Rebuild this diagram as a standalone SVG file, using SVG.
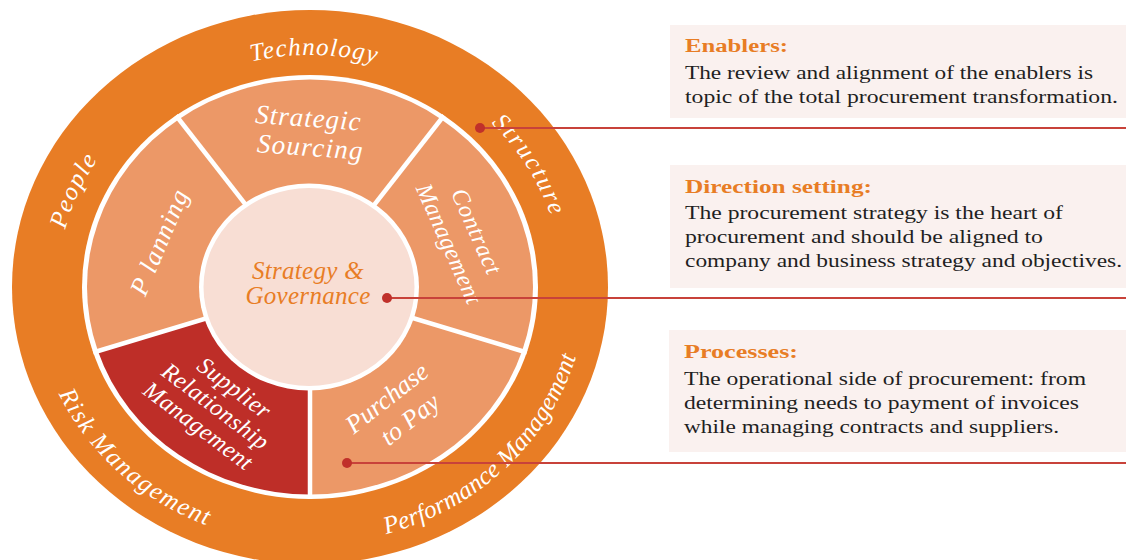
<svg xmlns="http://www.w3.org/2000/svg" width="1126" height="560" viewBox="0 0 1126 560">
<style>
.ring{font-family:"Liberation Serif","DejaVu Serif",serif;font-style:italic;fill:#fff;font-size:25px}
.seg{font-family:"Liberation Serif","DejaVu Serif",serif;font-style:italic;fill:#fff;text-anchor:middle}
.ctr{font-family:"Liberation Serif","DejaVu Serif",serif;font-style:italic;fill:#E87D25;font-size:25px;text-anchor:middle}
.box{fill:#FAF1EF}
.ttl{font-family:"Liberation Serif","DejaVu Serif",serif;font-weight:bold;fill:#E87D25;font-size:18px}
.body{font-family:"Liberation Serif","DejaVu Serif",serif;fill:#1F1F1F;font-size:19.5px}
.conn{stroke:#C8423A;stroke-width:2;fill:none}
.dot{fill:#C0302A}
.div{stroke:#fff;stroke-width:4.5}
</style>
<defs>
<path id="pTech" d="M153.05,106.71 A249.4,232 0 0 1 473.63,111.91"/>
<path id="pStruct" d="M396.39,66.17 A252.6,235 0 0 1 558.76,327.80"/>
<path id="pPeople" d="M68.44,355.71 A252.6,235 0 0 1 195.32,77.61"/>
<path id="pRisk" d="M34.56,266.83 A276.3,257 0 0 0 336.47,542.82"/>
<path id="pPerf" d="M244.10,536.57 A276.3,257 0 0 0 575.33,215.30"/>
</defs>
<rect width="1126" height="560" fill="#fff"/>

<g id="enablers-ring">
<ellipse cx="310" cy="287" rx="298" ry="277" fill="#E87D25"/>
<text class="ring" letter-spacing="1.2"><textPath href="#pTech" startOffset="50%" text-anchor="middle">Technology</textPath></text>
<text class="ring" letter-spacing="2.3"><textPath href="#pStruct" startOffset="50%" text-anchor="middle">Structure</textPath></text>
<text class="ring" letter-spacing="1.5"><textPath href="#pPeople" startOffset="50%" text-anchor="middle">People</textPath></text>
<text class="ring" letter-spacing="1.6"><textPath href="#pRisk" startOffset="50%" text-anchor="middle">Risk Management</textPath></text>
<text class="ring" letter-spacing="0.2"><textPath href="#pPerf" startOffset="50%" text-anchor="middle">Performance Management</textPath></text>
<ellipse cx="310" cy="287" rx="228" ry="212" fill="#fff"/>
</g>

<g id="strategic-sourcing">
<path d="M310,287 L178.92,119.13 A223,207.5 0 0 1 441.08,119.13 Z" fill="#EC9867"/>
<g transform="rotate(4 310 140)">
<text class="seg" x="307" y="127" font-size="27" letter-spacing="1">Strategic</text>
<text class="seg" x="311" y="156" font-size="27" letter-spacing="1.3">Sourcing</text>
</g>
</g>
<g id="contract-management">
<path d="M310,287 L441.08,119.13 A223,207.5 0 0 1 522.09,351.12 Z" fill="#EC9867"/>
<g transform="translate(462,238) rotate(66)">
<text class="seg" x="0" y="-8" font-size="24" letter-spacing="0.8">Contract</text>
<text class="seg" x="0" y="22" font-size="24" letter-spacing="0.4">Management</text>
</g>
</g>
<g id="purchase-to-pay">
<path d="M310,287 L522.09,351.12 A223,207.5 0 0 1 310,494.5 Z" fill="#EC9867"/>
<g transform="translate(398,409) rotate(-38)">
<text class="seg" x="-2" y="-7" font-size="26">Purchase</text>
<text class="seg" x="3" y="24" font-size="26">to Pay</text>
</g>
</g>
<g id="supplier-relationship-management">
<path d="M310,287 L310,494.5 A223,207.5 0 0 1 97.91,351.12 Z" fill="#BE2E28"/>
<g transform="translate(215,407) rotate(37)">
<text class="seg" x="4" y="-19" font-size="24" letter-spacing="0.5">Supplier</text>
<text class="seg" x="0" y="7" font-size="24" letter-spacing="0.5">Relationship</text>
<text class="seg" x="-2" y="33" font-size="24" letter-spacing="0.5">Management</text>
</g>
</g>
<g id="planning">
<path d="M310,287 L97.91,351.12 A223,207.5 0 0 1 178.92,119.13 Z" fill="#EC9867"/>
<g transform="translate(160,242) rotate(-67)">
<text class="seg" x="0" y="8" font-size="26" letter-spacing="1.3">P lanning</text>
</g>
</g>
<g id="dividers">
<line class="div" x1="310" y1="287" x2="176" y2="115.5"/>
<line class="div" x1="310" y1="287" x2="444" y2="115.5"/>
<line class="div" x1="310" y1="287" x2="526.8" y2="352.5"/>
<line class="div" x1="310" y1="287" x2="310" y2="499"/>
<line class="div" x1="310" y1="287" x2="93.2" y2="352.5"/>
</g>

<g id="strategy-governance">
<ellipse cx="309" cy="287" rx="110" ry="103.5" fill="#fff"/>
<ellipse cx="309" cy="287" rx="105.5" ry="99" fill="#F8DED4"/>
<text class="ctr" x="308" y="279" letter-spacing="0.3">Strategy &amp;</text>
<text class="ctr" x="308" y="304" letter-spacing="0.3">Governance</text>
</g>

<g id="box-enablers">
<rect class="box" x="670" y="25" width="456" height="93"/>
<text class="ttl" x="685" y="52" textLength="103" lengthAdjust="spacingAndGlyphs">Enablers:</text>
<text class="body" x="685" y="79" textLength="408" lengthAdjust="spacingAndGlyphs">The review and alignment of the enablers is</text>
<text class="body" x="685" y="103" textLength="433" lengthAdjust="spacingAndGlyphs">topic of the total procurement transformation.</text>
</g>
<g id="box-direction">
<rect class="box" x="670" y="165" width="456" height="123"/>
<text class="ttl" x="685" y="193" textLength="187" lengthAdjust="spacingAndGlyphs">Direction setting:</text>
<text class="body" x="685" y="219" textLength="378" lengthAdjust="spacingAndGlyphs">The procurement strategy is the heart of</text>
<text class="body" x="685" y="243" textLength="358" lengthAdjust="spacingAndGlyphs">procurement and should be aligned to</text>
<text class="body" x="685" y="267" textLength="437" lengthAdjust="spacingAndGlyphs">company and business strategy and objectives.</text>
</g>
<g id="box-processes">
<rect class="box" x="669" y="330" width="457" height="122"/>
<text class="ttl" x="684" y="358" textLength="114" lengthAdjust="spacingAndGlyphs">Processes:</text>
<text class="body" x="684" y="385" textLength="402" lengthAdjust="spacingAndGlyphs">The operational side of procurement: from</text>
<text class="body" x="684" y="409" textLength="395" lengthAdjust="spacingAndGlyphs">determining needs to payment of invoices</text>
<text class="body" x="684" y="433" textLength="375" lengthAdjust="spacingAndGlyphs">while managing contracts and suppliers.</text>
</g>

<g id="connectors">
<line class="conn" x1="480" y1="128" x2="1126" y2="128"/>
<circle class="dot" cx="480" cy="128" r="5"/>
<line class="conn" x1="387" y1="298" x2="1126" y2="298"/>
<circle class="dot" cx="387" cy="298" r="5"/>
<line class="conn" x1="347" y1="463" x2="1126" y2="463"/>
<circle class="dot" cx="347" cy="463" r="5"/>
</g>
</svg>
